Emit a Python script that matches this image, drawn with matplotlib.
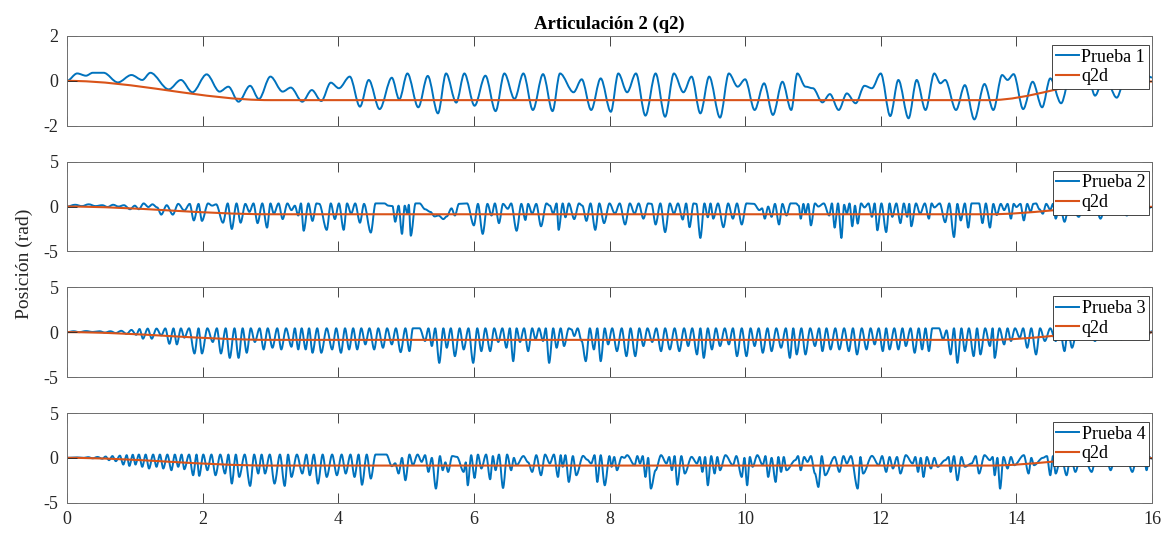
import numpy as np
import matplotlib
matplotlib.use("Agg")
import matplotlib.pyplot as plt
from matplotlib.path import Path
from matplotlib.patches import PathPatch
from matplotlib.lines import Line2D

plt.rcParams['font.family'] = ['Liberation Serif', 'DejaVu Serif']
plt.rcParams['axes.unicode_minus'] = False

azul = '#0072BD'
naranja = '#D95319'
gris = '#262626'

# referencia q2d (igual en las cuatro pruebas)
q2d_t = [0.0, 3.0, 13.6, 15.4, 16.0]
q2d_v = [0.0, -0.86, -0.86, -0.03, -0.03]

prueba1 = [
    (0.00, 0.00), (0.15, 0.33), (0.28, 0.23), (0.38, 0.36), (0.54, 0.36), (0.75, -0.07),
    (0.95, 0.26), (1.11, 0.04), (1.23, 0.36), (1.50, -0.38), (1.68, 0.04), (1.85, -0.51),
    (2.06, 0.29), (2.25, -0.48), (2.38, -0.26), (2.53, -0.93), (2.70, -0.22), (2.83, -0.81),
    (3.00, 0.19), (3.18, -0.48), (3.30, -0.30), (3.47, -0.93), (3.61, -0.41), (3.75, -0.90),
    (3.89, -0.08), (4.01, -0.33), (4.17, 0.19), (4.32, -1.15), (4.45, 0.04), (4.61, -1.26),
    (4.79, 0.14), (4.90, -0.83), (5.02, 0.33), (5.18, -1.18), (5.32, 0.22), (5.47, -1.45),
    (5.59, 0.33), (5.74, -0.97), (5.86, 0.33), (6.01, -1.11), (6.17, 0.23), (6.32, -1.35),
    (6.45, 0.33), (6.60, -0.81), (6.73, 0.33), (6.87, -1.30), (7.02, 0.30), (7.16, -1.35),
    (7.27, 0.33), (7.47, -0.51), (7.59, 0.07), (7.73, -1.30), (7.87, 0.11), (8.02, -1.38),
    (8.13, 0.33), (8.26, -0.51), (8.39, 0.33), (8.53, -1.55), (8.68, 0.33), (8.82, -1.60),
    (8.95, 0.33), (9.09, -0.51), (9.21, 0.19), (9.34, -1.45), (9.47, 0.19), (9.63, -1.64),
    (9.76, 0.33), (9.89, -0.26), (10.00, 0.07), (10.14, -1.30), (10.28, -0.11), (10.41, -1.52),
    (10.55, -0.04), (10.68, -1.30), (10.77, 0.33), (10.89, -0.26), (11.00, -0.33), (11.14, -0.96),
    (11.25, -0.59), (11.38, -1.30), (11.50, -0.56), (11.63, -1.00), (11.76, -0.22), (11.87, -0.33),
    (12.00, 0.33), (12.14, -1.57), (12.26, 0.04), (12.41, -1.67), (12.53, 0.04), (12.66, -1.30),
    (12.79, 0.33), (12.88, -0.11), (12.95, 0.04), (13.11, -1.30), (13.24, -0.19), (13.38, -1.72),
    (13.53, -0.14), (13.66, -1.30), (13.79, 0.26), (13.87, 0.04), (13.96, 0.30), (14.10, -1.26),
    (14.24, -0.04), (14.38, -1.18), (14.50, 0.11), (14.66, -1.00), (14.80, 0.30), (14.95, -0.30),
    (15.05, 0.25), (15.16, -0.66), (15.30, 0.25), (15.48, -0.75), (15.62, 0.30), (15.75, -0.10),
    (15.87, 0.33), (16.00, 0.15),
]

prueba2 = [
    (0.00, 0.00), (0.12, 0.20), (0.22, 0.05), (0.32, 0.25), (0.42, 0.05), (0.52, 0.15),
    (0.60, -0.05), (0.68, 0.20), (0.76, 0.00), (0.84, 0.15), (0.93, -0.30), (1.00, 0.10),
    (1.06, -0.30), (1.13, 0.35), (1.20, -0.05), (1.26, 0.25), (1.33, -0.10), (1.39, -0.90),
    (1.47, 0.15), (1.56, -0.90), (1.64, 0.30), (1.73, -0.45), (1.81, 0.30), (1.87, -1.55),
    (1.94, 0.30), (1.99, -1.60), (2.08, 0.35), (2.14, 0.10), (2.20, 0.25), (2.30, -1.80),
    (2.37, 0.35), (2.43, -2.50), (2.50, 0.35), (2.56, -1.80), (2.63, 0.30), (2.69, -0.60),
    (2.75, 0.35), (2.81, -1.85), (2.88, 0.35), (2.95, -2.35), (3.00, 0.35), (3.05, -0.80),
    (3.12, 0.35), (3.18, -1.40), (3.25, 0.35), (3.31, -0.40), (3.36, 0.10), (3.41, -1.00),
    (3.45, 0.35), (3.49, -2.70), (3.56, 0.35), (3.62, -1.60), (3.68, 0.35), (3.72, 0.30),
    (3.83, -2.60), (3.89, 0.35), (3.95, -1.40), (4.01, 0.35), (4.08, -2.60), (4.13, 0.35),
    (4.19, -0.80), (4.25, 0.35), (4.32, -1.80), (4.38, 0.30), (4.48, -2.90), (4.55, 0.35),
    (4.68, 0.35), (4.74, 0.10), (4.80, 0.05), (4.84, -1.70), (4.89, 0.10), (4.94, -3.05),
    (4.98, 0.10), (5.02, -0.80), (5.04, 0.20), (5.07, -3.25), (5.14, 0.35), (5.20, 0.35),
    (5.28, -0.30), (5.36, -0.60), (5.42, -1.10), (5.48, -1.00), (5.55, -1.40), (5.60, -1.10),
    (5.67, -0.20), (5.72, -1.00), (5.78, 0.30), (5.90, 0.35), (6.00, -2.10), (6.06, 0.30),
    (6.13, -3.05), (6.20, 0.30), (6.26, -1.00), (6.31, 0.35), (6.37, -1.85), (6.43, 0.30),
    (6.50, -0.25), (6.55, 0.35), (6.63, -2.70), (6.70, 0.30), (6.76, -1.50), (6.80, 0.30),
    (6.86, -0.80), (6.92, 0.30), (6.99, -2.20), (7.07, 0.35), (7.12, 0.10), (7.17, -0.80),
    (7.22, 0.35), (7.25, -2.60), (7.31, 0.35), (7.35, -1.20), (7.40, 0.35), (7.48, -1.40),
    (7.55, 0.35), (7.60, 0.10), (7.66, -1.60), (7.72, 0.35), (7.79, -2.60), (7.85, 0.35),
    (7.92, -1.85), (8.00, 0.35), (8.08, -0.80), (8.15, 0.35), (8.23, -2.00), (8.30, 0.35),
    (8.37, -0.80), (8.43, 0.35), (8.50, -1.35), (8.57, 0.35), (8.62, 0.30), (8.68, -2.00),
    (8.75, 0.35), (8.82, -2.85), (8.89, 0.35), (8.95, -0.80), (9.01, 0.35), (9.08, -1.45),
    (9.13, 0.35), (9.18, -2.30), (9.24, 0.35), (9.28, 0.30), (9.34, -3.50), (9.40, 0.35),
    (9.45, -1.20), (9.49, 0.35), (9.53, -1.35), (9.60, 0.35), (9.68, -2.30), (9.75, 0.35),
    (9.82, -1.35), (9.88, 0.35), (9.95, -2.00), (10.02, 0.35), (10.13, 0.30), (10.21, -0.40),
    (10.25, -0.20), (10.29, -1.35), (10.34, 0.00), (10.39, -1.15), (10.44, 0.30), (10.50, -2.00),
    (10.55, 0.30), (10.61, -1.00), (10.67, 0.35), (10.75, 0.35), (10.79, 0.10), (10.82, -1.35),
    (10.86, 0.30), (10.89, -0.80), (10.93, 0.30), (10.97, -2.10), (11.03, 0.35), (11.08, 0.00),
    (11.16, 0.35), (11.24, -1.00), (11.28, 0.35), (11.32, -2.35), (11.37, 0.35), (11.42, -3.50),
    (11.46, 0.20), (11.50, -0.80), (11.54, 0.35), (11.58, -2.20), (11.62, 0.10), (11.66, -1.90),
    (11.71, 0.35), (11.76, -0.10), (11.82, 0.35), (11.87, -1.15), (11.91, 0.35), (11.95, -2.65),
    (12.01, 0.35), (12.08, -2.85), (12.13, 0.35), (12.17, -1.15), (12.23, 0.35), (12.29, -1.85),
    (12.34, 0.35), (12.39, -1.15), (12.42, 0.30), (12.45, -2.20), (12.52, 0.35), (12.58, -0.80),
    (12.65, 0.35), (12.71, -1.35), (12.75, 0.35), (12.79, -0.10), (12.87, 0.35), (12.95, -1.75),
    (13.01, 0.35), (13.08, -3.40), (13.13, 0.30), (13.18, -1.55), (13.24, 0.35), (13.29, -2.35),
    (13.34, 0.35), (13.45, 0.35), (13.50, -1.85), (13.55, 0.35), (13.61, -2.35), (13.66, 0.30),
    (13.71, -0.95), (13.77, 0.30), (13.82, -0.40), (13.87, 0.30), (13.92, -1.35), (13.96, 0.30),
    (14.00, -0.05), (14.06, 0.30), (14.11, -1.55), (14.16, 0.30), (14.21, -0.60), (14.25, 0.30),
    (14.29, 0.35), (14.34, -0.30), (14.39, -0.80), (14.44, 0.30), (14.50, -0.35), (14.54, 0.30),
    (14.58, -1.35), (14.64, 0.30), (14.71, -1.70), (14.78, 0.30), (14.85, -0.60), (14.92, -1.15),
    (15.00, 0.30), (15.08, -0.60), (15.16, 0.30), (15.24, -1.35), (15.32, 0.20), (15.40, -0.80),
    (15.48, 0.30), (15.56, -0.50), (15.63, -1.00), (15.70, 0.20), (15.79, 0.35), (15.86, -0.60),
    (15.92, -0.30), (16.00, -0.05),
]

prueba3 = [
    (0.00, 0.00), (0.10, 0.10), (0.18, 0.00), (0.28, 0.12), (0.38, 0.02), (0.48, 0.10),
    (0.56, -0.05), (0.64, 0.10), (0.72, -0.10), (0.80, 0.15), (0.88, -0.20), (0.95, 0.25),
    (1.02, -0.30), (1.07, 0.35), (1.12, -0.73), (1.19, 0.40), (1.25, -0.73), (1.32, 0.40),
    (1.39, -0.36), (1.45, 0.42), (1.51, -1.30), (1.57, 0.42), (1.62, -1.37), (1.68, 0.42),
    (1.73, -0.62), (1.80, 0.43), (1.88, -2.38), (1.94, 0.43), (1.99, -2.38), (2.07, 0.43),
    (2.15, -1.10), (2.21, 0.43), (2.27, -2.38), (2.34, 0.43), (2.40, -2.87), (2.47, 0.43),
    (2.53, -2.87), (2.59, 0.43), (2.65, -2.30), (2.71, 0.43), (2.77, -1.10), (2.84, 0.43),
    (2.90, -1.93), (2.96, 0.43), (3.03, -1.74), (3.10, 0.43), (3.16, -1.93), (3.23, 0.43),
    (3.31, -1.63), (3.36, 0.43), (3.41, -1.93), (3.46, 0.43), (3.52, -1.93), (3.57, 0.43),
    (3.62, -2.30), (3.69, 0.43), (3.75, -2.30), (3.83, 0.43), (3.91, -1.93), (3.97, 0.43),
    (4.04, -2.30), (4.10, 0.43), (4.16, -1.93), (4.22, 0.43), (4.28, -1.93), (4.34, 0.43),
    (4.40, -1.37), (4.46, 0.43), (4.53, -1.93), (4.59, 0.43), (4.66, -1.74), (4.72, 0.43),
    (4.79, -1.37), (4.85, 0.43), (4.92, -2.23), (4.99, 0.43), (5.05, -2.12), (5.10, 0.43),
    (5.20, 0.43), (5.28, -0.99), (5.33, 0.43), (5.38, -1.55), (5.43, 0.43), (5.49, -3.43),
    (5.55, 0.43), (5.60, -1.74), (5.66, 0.43), (5.72, -2.68), (5.79, 0.43), (5.85, -1.93),
    (5.92, 0.43), (5.99, -3.43), (6.05, 0.43), (6.11, -2.12), (6.17, 0.43), (6.24, -2.12),
    (6.30, 0.43), (6.36, -1.10), (6.42, 0.43), (6.48, -1.74), (6.53, 0.43), (6.58, -3.24),
    (6.63, 0.43), (6.68, -1.10), (6.74, 0.43), (6.80, -2.12), (6.86, 0.43), (6.91, -0.81),
    (6.96, 0.43), (7.02, -0.99), (7.06, 0.43), (7.11, -3.43), (7.17, 0.43), (7.22, -1.74),
    (7.28, 0.43), (7.33, -1.55), (7.40, 0.43), (7.44, 0.30), (7.48, -0.43), (7.53, 0.43),
    (7.59, -1.00), (7.65, -3.24), (7.71, 0.43), (7.77, -1.93), (7.82, 0.43), (7.87, -3.24),
    (7.93, 0.43), (7.98, -1.37), (8.04, 0.43), (8.11, -2.12), (8.18, 0.43), (8.25, -2.68),
    (8.31, 0.43), (8.38, -2.68), (8.44, 0.43), (8.50, -1.55), (8.56, 0.43), (8.63, -1.10),
    (8.69, 0.43), (8.76, -2.12), (8.82, 0.43), (8.89, -1.93), (8.96, 0.43), (9.03, -2.12),
    (9.10, 0.43), (9.16, -1.55), (9.22, 0.43), (9.29, -2.49), (9.34, 0.43), (9.39, -2.87),
    (9.45, 0.43), (9.51, -1.93), (9.57, 0.43), (9.63, -1.55), (9.70, 0.43), (9.76, -1.37),
    (9.82, 0.43), (9.88, -2.68), (9.95, 0.43), (10.02, -2.68), (10.08, 0.43), (10.14, -1.55),
    (10.20, 0.43), (10.26, -2.30), (10.33, 0.43), (10.39, -2.12), (10.46, 0.43), (10.53, -1.74),
    (10.60, 0.43), (10.66, -2.87), (10.71, 0.43), (10.76, -2.49), (10.83, 0.43), (10.89, -2.49),
    (10.96, 0.43), (11.03, -1.55), (11.09, 0.43), (11.14, -2.12), (11.20, 0.43), (11.26, -1.93),
    (11.33, 0.43), (11.39, -1.93), (11.46, 0.43), (11.53, -2.12), (11.59, 0.43), (11.65, -2.49),
    (11.72, 0.43), (11.79, -1.93), (11.85, 0.43), (11.91, -1.37), (11.97, 0.43), (12.03, -2.12),
    (12.08, 0.43), (12.13, -1.93), (12.20, 0.43), (12.26, -1.93), (12.32, 0.43), (12.37, -1.55),
    (12.44, 0.43), (12.50, -2.30), (12.56, 0.43), (12.61, -1.93), (12.66, 0.43), (12.71, -2.12),
    (12.76, 0.43), (12.86, 0.43), (12.92, -0.81), (12.97, 0.20), (13.03, -2.49), (13.08, 0.43),
    (13.13, -3.43), (13.19, 0.43), (13.24, -2.12), (13.30, 0.43), (13.37, -2.68), (13.42, 0.43),
    (13.47, -2.49), (13.54, 0.43), (13.61, -1.55), (13.65, 0.43), (13.68, -2.87), (13.75, 0.43),
    (13.82, -1.37), (13.87, 0.43), (13.92, -0.99), (13.98, 0.43), (14.05, -0.62), (14.10, 0.43),
    (14.16, -1.74), (14.22, 0.43), (14.29, -2.49), (14.35, 0.43), (14.42, -0.99), (14.50, 0.43),
    (14.58, -0.99), (14.64, 0.43), (14.71, -2.12), (14.76, 0.43), (14.82, -1.74), (14.90, 0.40),
    (14.98, -0.60), (15.06, 0.40), (15.16, -0.99), (15.24, 0.40), (15.32, -0.40), (15.40, 0.40),
    (15.48, -0.60), (15.55, -0.81), (15.62, 0.40), (15.70, -0.30), (15.76, 0.40), (15.82, -0.62),
    (15.87, 0.40), (15.92, -0.43), (16.00, 0.10),
]

prueba4 = [
    (0.00, 0.00), (0.15, 0.05), (0.25, 0.00), (0.31, 0.08), (0.38, -0.05), (0.45, 0.10),
    (0.52, -0.10), (0.57, 0.15), (0.62, -0.26), (0.67, 0.20), (0.72, -0.37), (0.78, 0.25),
    (0.83, -0.75), (0.88, 0.30), (0.92, -0.90), (0.97, 0.35), (1.01, -0.75), (1.06, 0.37),
    (1.11, -1.00), (1.16, 0.37), (1.21, -1.19), (1.27, 0.37), (1.32, -1.00), (1.37, 0.37),
    (1.42, -1.19), (1.48, 0.37), (1.54, -1.38), (1.59, 0.37), (1.64, -1.00), (1.69, 0.37),
    (1.73, -1.27), (1.80, 0.37), (1.86, -1.94), (1.91, 0.37), (1.95, -2.01), (2.01, 0.37),
    (2.07, -1.38), (2.13, 0.37), (2.19, -1.94), (2.26, 0.37), (2.33, -1.75), (2.38, 0.37),
    (2.43, -2.87), (2.49, 0.37), (2.54, -2.13), (2.62, 0.37), (2.70, -3.13), (2.76, 0.37),
    (2.82, -1.75), (2.87, 0.37), (2.92, -1.75), (2.99, 0.37), (3.06, -2.87), (3.14, 0.37),
    (3.21, -3.13), (3.26, 0.37), (3.31, -2.13), (3.39, 0.37), (3.47, -1.75), (3.53, 0.37),
    (3.58, -1.94), (3.64, 0.37), (3.70, -2.87), (3.77, 0.37), (3.83, -2.13), (3.91, 0.37),
    (3.98, -1.94), (4.05, 0.37), (4.11, -1.75), (4.18, 0.37), (4.24, -2.13), (4.30, 0.37),
    (4.35, -3.00), (4.42, 0.37), (4.48, -2.31), (4.55, 0.37), (4.71, 0.37), (4.79, -0.93),
    (4.84, -0.60), (4.89, -1.75), (4.94, 0.00), (4.99, -2.50), (5.05, 0.37), (5.10, -0.82),
    (5.17, 0.37), (5.23, -0.45), (5.28, 0.30), (5.33, -1.57), (5.38, 0.00), (5.44, -3.43),
    (5.50, 0.20), (5.54, -1.38), (5.58, -0.50), (5.62, -1.57), (5.68, 0.20), (5.75, 0.11),
    (5.85, -1.57), (5.88, -0.50), (5.91, -3.06), (5.96, 0.30), (6.01, -2.24), (6.06, 0.37),
    (6.11, -1.19), (6.18, 0.37), (6.24, -2.39), (6.28, 0.20), (6.32, -1.38), (6.37, 0.37),
    (6.43, -3.36), (6.49, 0.37), (6.55, -1.38), (6.59, 0.00), (6.63, -0.82), (6.73, 0.20),
    (6.80, -0.50), (6.86, -1.57), (6.92, 0.30), (6.99, -1.94), (7.05, 0.37), (7.12, -0.63),
    (7.18, 0.37), (7.24, -2.13), (7.28, 0.30), (7.31, -1.00), (7.35, 0.30), (7.40, -2.69),
    (7.46, 0.20), (7.51, -1.94), (7.61, 0.22), (7.67, -0.20), (7.73, -0.63), (7.78, 0.30),
    (7.82, -2.69), (7.87, 0.30), (7.93, -3.06), (8.00, 0.20), (8.03, -1.00), (8.07, 0.10),
    (8.11, -1.38), (8.18, 0.11), (8.22, 0.00), (8.26, 0.30), (8.37, -0.82), (8.41, 0.20),
    (8.45, -0.63), (8.49, 0.20), (8.53, -2.13), (8.57, 0.00), (8.61, -3.43), (8.68, -1.38),
    (8.76, 0.30), (8.84, -0.63), (8.88, 0.10), (8.92, -1.38), (8.96, 0.20), (9.00, -3.00),
    (9.06, 0.20), (9.11, -1.75), (9.21, 0.11), (9.29, -0.63), (9.33, 0.10), (9.37, -1.57),
    (9.41, 0.10), (9.45, -3.06), (9.50, 0.20), (9.55, -1.75), (9.59, 0.10), (9.63, -1.38),
    (9.71, 0.30), (9.82, -0.82), (9.87, 0.20), (9.95, -2.13), (9.99, 0.00), (10.03, -3.06),
    (10.07, 0.10), (10.11, -1.00), (10.18, 0.30), (10.26, -0.82), (10.30, 0.20), (10.34, -2.13),
    (10.39, 0.00), (10.45, -2.69), (10.49, 0.10), (10.53, -1.57), (10.57, 0.10), (10.61, -1.38),
    (10.74, -0.26), (10.78, 0.20), (10.82, -1.38), (10.87, 0.10), (10.92, -0.45), (10.97, 0.20),
    (11.03, -1.75), (11.08, -3.25), (11.13, 0.20), (11.18, -1.94), (11.32, 0.11), (11.39, -1.57),
    (11.45, 0.20), (11.50, -0.63), (11.56, 0.20), (11.66, -3.43), (11.70, 0.10), (11.74, -1.75),
    (11.87, 0.22), (11.97, -0.82), (12.02, 0.20), (12.08, -1.57), (12.13, 0.10), (12.18, -1.19),
    (12.24, 0.10), (12.29, -1.75), (12.37, 0.30), (12.47, -0.63), (12.51, 0.10), (12.55, -1.57),
    (12.59, 0.00), (12.63, -2.13), (12.68, 0.10), (12.74, -1.19), (12.79, 0.00), (12.84, -1.00),
    (12.95, -0.26), (13.00, 0.10), (13.03, -1.57), (13.08, 0.20), (13.13, -2.50), (13.19, 0.10),
    (13.24, -1.00), (13.34, -0.63), (13.40, 0.20), (13.45, -1.75), (13.53, 0.30), (13.61, -0.26),
    (13.65, 0.10), (13.68, -1.94), (13.72, 0.00), (13.76, -3.43), (13.81, 0.10), (13.87, -1.19),
    (13.92, 0.10), (13.97, -0.82), (14.11, 0.30), (14.18, -1.75), (14.22, 0.00), (14.26, -0.82),
    (14.39, 0.00), (14.45, 0.20), (14.50, -1.94), (14.54, 0.20), (14.58, -1.75), (14.66, 0.30),
    (14.74, -1.94), (14.80, 0.30), (14.87, -1.57), (14.95, 0.30), (15.03, -0.60), (15.11, -1.57),
    (15.18, 0.30), (15.26, -0.50), (15.32, 0.20), (15.39, -1.38), (15.46, 0.30), (15.55, -0.40),
    (15.62, 0.30), (15.71, -1.57), (15.78, 0.20), (15.84, -0.26), (15.88, 0.20), (15.92, -1.38),
    (15.96, 0.10), (16.00, -0.10),
]

pruebas = [prueba1, prueba2, prueba3, prueba4]
etiquetas = ['Prueba 1', 'Prueba 2', 'Prueba 3', 'Prueba 4']
limites = [(-2, 2), (-5, 5), (-5, 5), (-5, 5)]
yticks = [[-2, 0, 2], [-5, 0, 5], [-5, 0, 5], [-5, 0, 5]]


def curva_suave(t, v):
    # curva bezier por los extremos, tangente horizontal en cada uno
    verts = [(t[0], v[0])]
    codes = [Path.MOVETO]
    for i in range(len(t) - 1):
        dt = t[i + 1] - t[i]
        verts += [(t[i] + dt / 3, v[i]), (t[i + 1] - dt / 3, v[i + 1]), (t[i + 1], v[i + 1])]
        codes += [Path.CURVE4] * 3
    return Path(verts, codes)


fig = plt.figure(figsize=(11.68, 5.33), dpi=100)
H = 533.0
tops = [36, 161.7, 287.3, 413]
alto = 89.7

for k in range(4):
    ax = fig.add_axes([67 / 1168, 1 - (tops[k] + alto) / H, 1085 / 1168, alto / H])
    datos = np.array(pruebas[k])
    ax.add_patch(PathPatch(curva_suave(datos[:, 0], datos[:, 1]), facecolor='none',
                           edgecolor=azul, lw=1.4, joinstyle='round'))
    ax.add_patch(PathPatch(curva_suave(q2d_t, q2d_v), facecolor='none',
                           edgecolor=naranja, lw=1.5, joinstyle='round'))
    ax.set_xlim(0, 16)
    ax.set_ylim(*limites[k])
    ax.set_xticks(np.arange(0, 17, 2))
    ax.set_yticks(yticks[k])
    ax.tick_params(direction='in', length=7, width=0.6, top=True, right=True,
                   labelsize=13, color=gris, labelcolor=gris, pad=6)
    if k < 3:
        ax.tick_params(labelbottom=False)
    for s in ax.spines.values():
        s.set_color('#6e6e6e')
        s.set_linewidth(0.7)
    handles = [Line2D([], [], color=azul, lw=1.4), Line2D([], [], color=naranja, lw=1.5)]
    leg = ax.legend(handles, [etiquetas[k], 'q2d'], loc='upper right',
                    bbox_to_anchor=(0.997, 0.9), borderaxespad=0, fontsize=13,
                    handlelength=1.25, handletextpad=0.15, labelspacing=0.15,
                    borderpad=0.2, fancybox=False, framealpha=1)
    leg.get_frame().set_edgecolor(gris)
    leg.get_frame().set_linewidth(0.6)
    if k == 0:
        ax.set_title('Articulación 2 (q2)', fontsize=13.5, fontweight='bold', pad=5)

fig.text(0.021, 0.505, 'Posición (rad)', rotation=90, ha='center', va='center',
         fontsize=14, color=gris)

fig.savefig('out.png', dpi=100)
